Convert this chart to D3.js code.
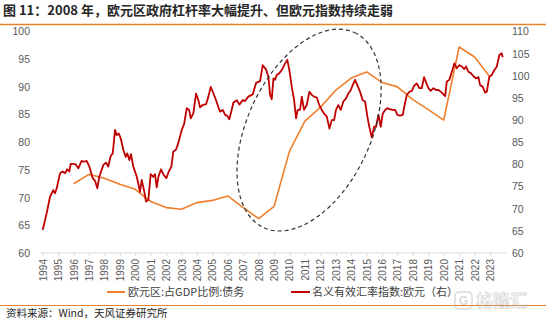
<!DOCTYPE html>
<html><head><meta charset="utf-8">
<script src="https://cdn.jsdelivr.net/npm/d3@7"></script>
<style>
html,body{margin:0;padding:0;background:#fff;}
svg{display:block;}
</style></head>
<body>
<svg id="c" width="546" height="321"></svg>
<script>
// ---------- data ----------
const titleText = "图 11：2008 年，欧元区政府杠杆率大幅提升、但欧元指数持续走弱";
const sourceText = "资料来源：Wind，天风证券研究所";
const seriesNames = ["欧元区:占GDP比例:债务", "名义有效汇率指数:欧元（右）"];
const yearTicks = d3.range(1994, 2024);
const leftTicks = [60, 65, 70, 75, 80, 85, 90, 95, 100];
const rightTicks = [60, 65, 70, 75, 80, 85, 90, 95, 100, 105, 110];

// debt / GDP (left axis), annual
const debtYears = [1996,1997,1998,1999,2000,2001,2002,2003,2004,2005,2006,2007,2008,2009,2010,2011,2012,2013,2014,2015,2016,2017,2018,2019,2020,2021,2022,2023];
const debtValues = [72.5,74.2,73.5,72.4,71.5,69.3,68.2,67.9,69.1,69.5,70.3,68.2,66.2,68.4,78.4,83.8,86.3,89.4,91.6,92.7,90.8,90.0,87.7,85.9,84.0,97.2,95.4,91.8];

// nominal effective exchange rate EUR (right axis); months since Jan 1994
const fxMonths = [0,1.8,3.1,5.7,8.2,9.6,10.9,13.5,15.6,17.4,19.1,20.7,21.8,23.8,25.7,27.7,30.3,32.1,34.2,36.3,38.9,40.7,42.5,44.0,47.2,49.3,51.0,52.9,54.5,56.3,57.6,59.1,60.7,62.7,64.6,65.8,67.4,68.7,70.5,73.2,75.7,77.0,78.8,80.4,82.2,84.0,86.1,87.4,88.7,90.0,92.1,94.2,96.2,98.1,100.1,101.6,103.7,105.5,108.2,110.0,112.1,113.9,115.2,117.2,119.3,121.1,122.4,124.5,127.1,128.9,130.7,132.3,134.1,136.7,138.0,140.1,141.9,143.7,145.2,147.1,148.3,151.0,153.0,155.6,157.4,160.0,163.4,166.0,169.1,171.2,173.8,175.6,176.9,178.2,179.5,180.8,182.1,184.1,186.0,188.6,190.3,191.9,193.8,195.6,197.1,198.4,200.2,201.6,203.3,205.4,207.5,209.3,211.1,213.2,215.2,217.1,218.9,221.0,223.1,224.9,226.7,228.2,230.0,231.9,233.9,236.0,237.8,239.7,241.2,243.0,244.8,246.9,249.0,250.8,252.6,254.1,256.0,257.8,259.4,261.2,263.0,264.6,266.4,268.2,270.3,272.4,274.2,275.9,278.0,280.2,281.2,283.3,285.3,287.2,288.9,291.0,293.1,294.9,296.7,298.3,300.1,301.9,304.0,306.1,307.9,310.5,313.1,314.4,316.4,318.3,320.3,322.2,324.0,326.1,327.9,329.4,331.2,333.1,335.1,337.2,339.0,340.3,342.4,344.2,345.5,347.5,349.4,351.2,353.3,355.3,357.1,357.9];
const fxValues = [65.2,67.4,69.0,72.7,74.2,73.5,74.6,78.0,78.4,78.0,78.9,78.4,80.1,80.1,80.0,79.1,80.8,80.6,80.8,79.5,76.9,76.3,74.6,77.2,79.9,80.4,79.5,81.9,82.5,87.8,86.6,87.0,85.9,83.3,81.7,82.5,81.0,82.3,79.5,77.2,73.8,76.5,74.2,71.6,72.0,77.8,77.2,77.8,74.8,77.2,78.9,77.6,76.9,78.4,79.5,82.9,83.3,84.8,87.8,89.1,92.7,92.3,90.4,91.5,96.0,94.5,92.9,93.4,93.6,95.3,97.5,96.4,95.1,92.9,91.9,92.3,91.2,90.9,90.2,92.4,93.9,94.5,93.5,94.5,94.3,95.3,95.8,98.4,98.8,102.4,101.4,99.8,95.7,94.7,99.4,99.1,100.2,100.6,101.3,102.8,103.6,101.3,97.5,94.5,90.4,92.3,92.3,95.3,92.3,93.4,96.4,95.7,95.3,95.1,93.4,92.3,91.5,90.8,88.1,90.0,90.0,92.3,93.4,92.3,94.2,94.9,96.0,96.8,97.9,99.1,97.9,96.4,94.5,94.2,90.8,88.5,86.1,88.5,88.5,91.2,88.5,91.5,92.3,92.7,92.4,92.3,92.3,91.2,91.0,91.2,92.9,95.7,96.4,96.6,97.7,98.3,97.2,97.2,99.7,98.5,97.2,96.6,97.2,96.8,96.8,96.2,95.4,98.7,99.1,100.9,102.8,101.7,102.4,102.1,101.5,102.1,100.9,100.6,99.9,99.4,99.7,97.9,97.5,96.2,96.4,99.8,100.2,101.2,102.1,104.7,105.1,104.2];

// ---------- drawing ----------
const svg = d3.select("#c");
const ORANGE = "#F07F2D", RED = "#C00000", LINE_ORANGE = "#E9822E";
const cjk = "'Noto Sans CJK SC','Noto Sans',sans-serif";
const num = "'Liberation Sans',Arial,sans-serif";

const x = d3.scaleLinear().domain([1994, 2023]).range([42.7, 490]);
const yL = d3.scaleLinear().domain([60, 100]).range([253, 31.5]);
const yR = d3.scaleLinear().domain([60, 110]).range([253, 31.5]);

// title
svg.append("text").attr("x", 3).attr("y", 15)
  .attr("font-family", cjk).attr("font-size", 13).attr("font-weight", "bold")
  .attr("fill", "#262626").text(titleText);
svg.append("line").attr("x1", 0).attr("x2", 546).attr("y1", 24.5).attr("y2", 24.5)
  .attr("stroke", LINE_ORANGE).attr("stroke-width", 1.5);

// x axis
svg.append("line").attr("x1", x(1993.85)).attr("x2", x(2024.05)).attr("y1", 253).attr("y2", 253)
  .attr("stroke", "#d9d9d9").attr("stroke-width", 1);
const xAxis = svg.append("g").attr("transform", "translate(0,253)")
  .call(d3.axisBottom(x).tickValues(yearTicks).tickFormat(d3.format("d")).tickSize(3).tickPadding(3));
xAxis.select(".domain").remove();
xAxis.selectAll(".tick line").attr("stroke", "#d9d9d9");
xAxis.selectAll(".tick text")
  .attr("font-family", num).attr("font-size", 10).attr("fill", "#595959")
  .attr("transform", "rotate(-90)").attr("text-anchor", "end")
  .attr("x", -6).attr("y", 0).attr("dy", "0.35em");

// left axis
const la = svg.append("g").attr("transform", "translate(33,0)")
  .call(d3.axisLeft(yL).tickValues(leftTicks).tickSize(0).tickPadding(3));
la.select(".domain").remove();
la.selectAll("text").attr("font-family", num).attr("font-size", 10.5).attr("fill", "#595959");

// right axis
const ra = svg.append("g").attr("transform", "translate(509,0)")
  .call(d3.axisRight(yR).tickValues(rightTicks).tickSize(0).tickPadding(3));
ra.select(".domain").remove();
ra.selectAll("text").attr("font-family", num).attr("font-size", 10.5).attr("fill", "#595959");

// orange debt line
const debtData = debtYears.map((d, i) => ({x: d, y: debtValues[i]}));
svg.append("path").datum(debtData)
  .attr("fill", "none").attr("stroke", ORANGE).attr("stroke-width", 1.6)
  .attr("stroke-linejoin", "round")
  .attr("d", d3.line().x(d => x(d.x)).y(d => yL(d.y)));

// red fx line
const fxData = fxMonths.map((m, i) => ({x: 1994 + m / 12, y: fxValues[i]}));
svg.append("path").datum(fxData)
  .attr("fill", "none").attr("stroke", RED).attr("stroke-width", 1.8)
  .attr("stroke-linejoin", "round")
  .attr("d", d3.line().x(d => x(d.x)).y(d => yR(d.y)));

// dashed ellipse annotation
const ecx = x(2011.27), ecy = yL(82.2);
svg.append("ellipse")
  .attr("cx", 0).attr("cy", 0).attr("rx", 107.6).attr("ry", 61.7)
  .attr("transform", `translate(${ecx},${ecy}) rotate(-65)`)
  .attr("fill", "none").attr("stroke", "#333").attr("stroke-width", 1.2)
  .attr("stroke-dasharray", "4,3");

// legend
const lg = svg.append("g");
lg.append("line").attr("x1", 107).attr("x2", 125).attr("y1", 292).attr("y2", 292)
  .attr("stroke", ORANGE).attr("stroke-width", 2);
lg.append("text").attr("x", 128).attr("y", 292).attr("dy", "0.35em")
  .attr("font-family", cjk).attr("font-size", 11).attr("fill", "#404040").text(seriesNames[0]);
lg.append("line").attr("x1", 291).attr("x2", 310).attr("y1", 292).attr("y2", 292)
  .attr("stroke", RED).attr("stroke-width", 2);
lg.append("text").attr("x", 312).attr("y", 292).attr("dy", "0.35em")
  .attr("font-family", cjk).attr("font-size", 11).attr("fill", "#404040").text(seriesNames[1]);

// footer
svg.append("line").attr("x1", 0).attr("x2", 546).attr("y1", 305.5).attr("y2", 305.5)
  .attr("stroke", LINE_ORANGE).attr("stroke-width", 1.2);
svg.append("text").attr("x", 6).attr("y", 313.5).attr("dy", "0.35em")
  .attr("font-family", cjk).attr("font-size", 10.5).attr("fill", "#222").text(sourceText);

// watermark
const wm = svg.append("g").attr("opacity", 0.55);
wm.append("rect").attr("x", 455).attr("y", 292).attr("width", 17).attr("height", 17).attr("rx", 4)
  .attr("fill", "none").attr("stroke", "#bbb").attr("stroke-width", 1.5);
wm.append("text").attr("x", 463.5).attr("y", 301).attr("dy", "0.35em").attr("text-anchor", "middle")
  .attr("font-family", num).attr("font-weight", "bold").attr("font-size", 12).attr("fill", "#bbb").text("G");
wm.append("text").attr("x", 476).attr("y", 301).attr("dy", "0.35em")
  .attr("font-family", cjk).attr("font-size", 17).attr("font-weight", "bold")
  .attr("fill", "none").attr("stroke", "#bbb").attr("stroke-width", 0.8).text("格隆汇");
</script>
</body></html>
